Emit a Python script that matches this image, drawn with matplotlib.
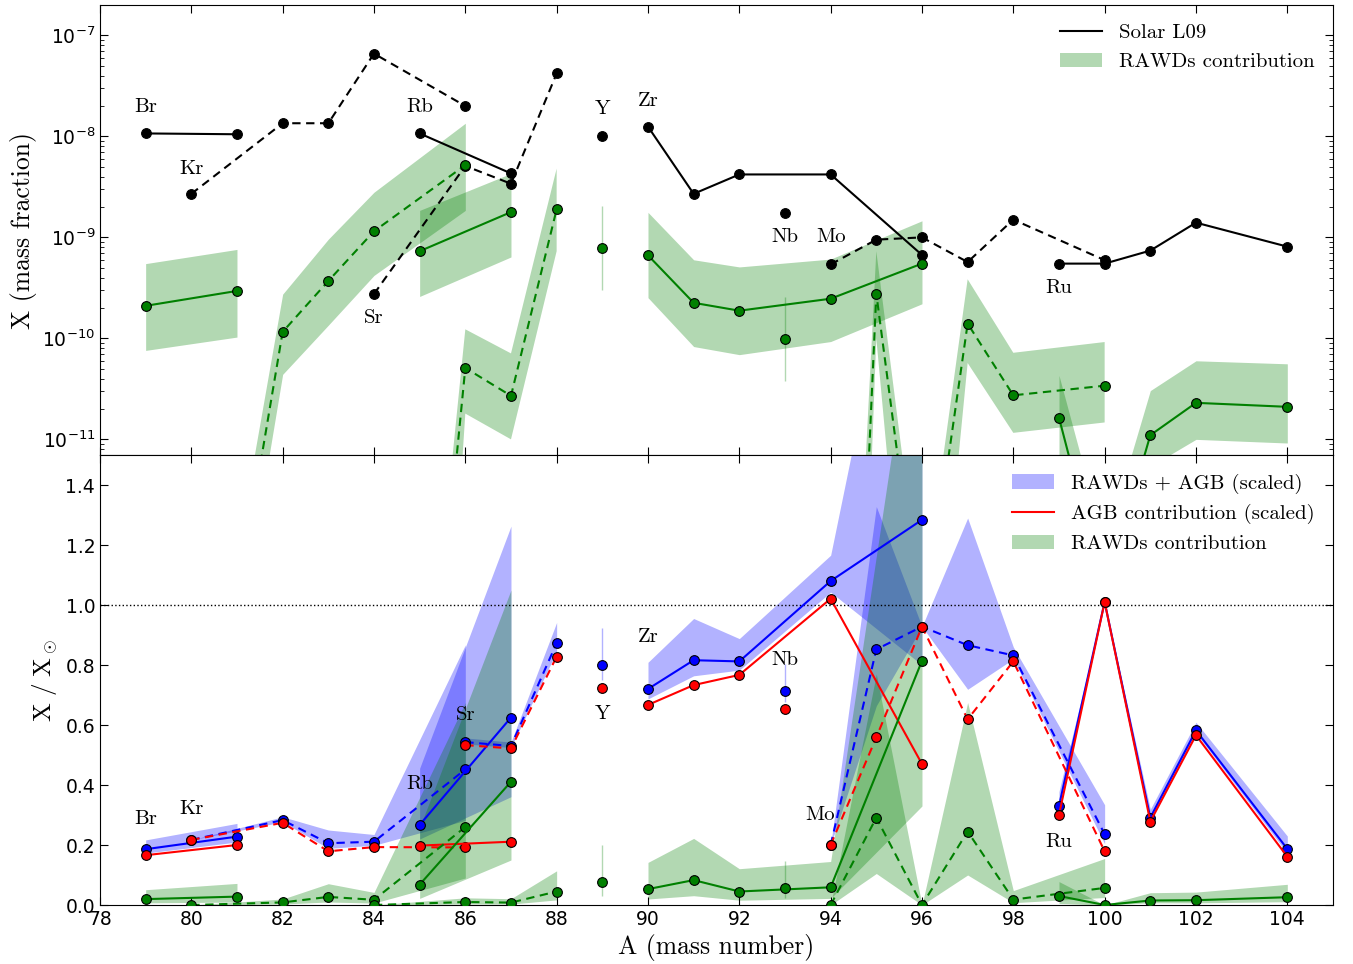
import numpy as np
import matplotlib
matplotlib.use("Agg")
import matplotlib.pyplot as plt
from matplotlib.lines import Line2D
from matplotlib.patches import Patch

plt.rcParams['mathtext.fontset'] = 'cm'
plt.rcParams['lines.scale_dashes'] = False
plt.rcParams['xtick.direction'] = 'in'
plt.rcParams['ytick.direction'] = 'in'
plt.rcParams['xtick.labelsize'] = 13.5
plt.rcParams['ytick.labelsize'] = 13.5

nan = np.nan

# ---- isotopes: element, mass number ----
element = ['Br', 'Br',
           'Kr', 'Kr', 'Kr', 'Kr', 'Kr',
           'Rb', 'Rb',
           'Sr', 'Sr', 'Sr', 'Sr',
           'Y',
           'Zr', 'Zr', 'Zr', 'Zr', 'Zr',
           'Nb',
           'Mo', 'Mo', 'Mo', 'Mo', 'Mo', 'Mo',
           'Ru', 'Ru', 'Ru', 'Ru', 'Ru']
mass = [79, 81,
        80, 82, 83, 84, 86,
        85, 87,
        84, 86, 87, 88,
        89,
        90, 91, 92, 94, 96,
        93,
        94, 95, 96, 97, 98, 100,
        99, 100, 101, 102, 104]

# ---- top panel: mass fractions ----
solar = [1.07e-8, 1.05e-8,
         2.7e-9, 1.35e-8, 1.35e-8, 6.6e-8, 2.0e-8,
         1.07e-8, 4.3e-9,
         2.75e-10, 5.1e-9, 3.4e-9, 4.2e-8,
         1.02e-8,
         1.25e-8, 2.7e-9, 4.2e-9, 4.2e-9, 6.7e-10,
         1.75e-9,
         5.4e-10, 9.5e-10, 1.0e-9, 5.7e-10, 1.5e-9, 5.95e-10,
         5.5e-10, 5.5e-10, 7.4e-10, 1.4e-9, 8.1e-10]
rawd = [2.1e-10, 2.95e-10,
        5e-16, 1.16e-10, 3.7e-10, 1.15e-9, 5.2e-9,
        7.3e-10, 1.78e-9,
        3e-20, 5.1e-11, 2.7e-11, 1.9e-9,
        7.9e-10,
        6.65e-10, 2.25e-10, 1.88e-10, 2.47e-10, 5.5e-10,
        9.8e-11,
        2.5e-20, 2.77e-10, 1e-13, 1.4e-10, 2.73e-11, 3.4e-11,
        1.64e-11, 3e-13, 1.1e-11, 2.3e-11, 2.1e-11]
rawd_lo = [7.6e-11, 1.03e-10,
           1.7e-16, 4.4e-11, 1.35e-10, 4.2e-10, 1.85e-9,
           2.6e-10, 6.4e-10,
           2e-25, 1.8e-11, 1.0e-11, 7.3e-10,
           3.0e-10,
           2.53e-10, 8.3e-11, 6.9e-11, 9.3e-11, 2.2e-10,
           3.8e-11,
           1e-22, 1.0e-10, 1.3e-15, 5.7e-11, 1.16e-11, 1.47e-11,
           3e-12, 1e-14, 5.4e-12, 1.0e-11, 9.2e-12]
rawd_hi = [5.5e-10, 7.6e-10,
           2e-15, 2.74e-10, 9.6e-10, 2.8e-9, 1.35e-8,
           1.85e-9, 4.3e-9,
           1.3e-19, 1.23e-10, 7.1e-11, 4.8e-9,
           2.04e-9,
           1.77e-9, 6.0e-10, 5.1e-10, 6.1e-10, 1.46e-9,
           2.57e-10,
           1e-18, 7.3e-10, 2e-13, 3.85e-10, 7.2e-11, 9.2e-11,
           4.3e-11, 9e-13, 3.04e-11, 6.0e-11, 5.6e-11]

# ---- bottom panel: ratios to solar ----
agb = [0.166, 0.200,
       0.217, 0.274, 0.179, 0.193, 0.192,
       0.198, 0.211,
       nan, 0.533, 0.522, 0.828,
       0.722,
       0.667, 0.733, 0.767, 1.021, 0.470,
       0.655,
       0.200, 0.559, 0.928, 0.619, 0.812, 0.179,
       0.300, 1.010, 0.278, 0.566, 0.161]
total = [0.186, 0.228,
         0.217, 0.283, 0.206, 0.211, 0.452,
         0.267, 0.625,
         nan, 0.543, 0.530, 0.873,
         0.800,
         0.720, 0.816, 0.812, 1.080, 1.284,
         0.712,
         0.200, 0.852, 0.928, 0.866, 0.832, 0.236,
         0.330, 1.010, 0.291, 0.582, 0.187]
total_lo = [0.173, 0.210,
            0.217, 0.277, 0.189, 0.199, 0.282,
            0.220, 0.361,
            nan, 0.537, 0.525, 0.845,
            0.751,
            0.687, 0.764, 0.783, 1.043, 0.800,
            0.677,
            0.200, 0.664, 0.928, 0.719, 0.820, 0.204,
            0.305, 1.010, 0.285, 0.573, 0.172]
total_hi = [0.217, 0.272,
            0.217, 0.294, 0.250, 0.235, 0.867,
            0.456, 1.263,
            nan, 0.557, 0.543, 0.942,
            0.922,
            0.809, 0.955, 0.888, 1.166, 2.650,
            0.802,
            0.200, 1.328, 0.928, 1.290, 0.860, 0.334,
            0.378, 1.010, 0.319, 0.609, 0.230]
ratio = [0.0196, 0.028,
         0.0, 0.0086, 0.027, 0.0174, 0.260,
         0.068, 0.411,
         0.0, 0.010, 0.008, 0.045,
         0.077,
         0.053, 0.083, 0.045, 0.059, 0.814,
         0.056,
         0.0, 0.291, 0.0, 0.245, 0.018, 0.057,
         0.030, 0.0, 0.015, 0.016, 0.026]
ratio_lo = [0.0071, 0.0098,
            0.0, 0.0033, 0.010, 0.0064, 0.090,
            0.022, 0.150,
            0.0, 0.0035, 0.003, 0.017,
            0.029,
            0.020, 0.031, 0.016, 0.022, 0.330,
            0.022,
            0.0, 0.105, 0.0, 0.100, 0.0077, 0.025,
            0.005, 0.0, 0.0073, 0.0071, 0.011]
ratio_hi = [0.051, 0.072,
            0.0, 0.020, 0.071, 0.042, 0.675,
            0.258, 1.050,
            0.0, 0.024, 0.021, 0.114,
            0.200,
            0.142, 0.222, 0.121, 0.145, 2.180,
            0.147,
            0.0, 0.770, 0.0, 0.675, 0.048, 0.155,
            0.078, 0.0, 0.041, 0.043, 0.069]

elements = ['Br', 'Kr', 'Rb', 'Sr', 'Y', 'Zr', 'Nb', 'Mo', 'Ru']
linestyles = ['-', '--', '-', '--', '-', '-', '-', '--', '-']

# label anchors (A, value) for each element in the two panels
top_labels = {'Br': (79, 1.94e-8), 'Kr': (80, 4.8e-9), 'Rb': (85, 1.94e-8),
              'Sr': (84, 1.6e-10), 'Y': (89, 1.85e-8), 'Zr': (90, 2.26e-8),
              'Nb': (93, 1.0e-9), 'Mo': (94, 1.0e-9), 'Ru': (99, 3.16e-10)}
bot_labels = {'Br': (79, 0.287), 'Kr': (80, 0.32), 'Rb': (85, 0.403),
              'Sr': (86, 0.633), 'Y': (89, 0.637), 'Zr': (90, 0.893),
              'Nb': (93, 0.817), 'Mo': (93.76, 0.30), 'Ru': (99, 0.21)}

mass = np.array(mass)
element = np.array(element)
solar, rawd, rawd_lo, rawd_hi = map(np.array, (solar, rawd, rawd_lo, rawd_hi))
agb, total, total_lo, total_hi = map(np.array, (agb, total, total_lo, total_hi))
ratio, ratio_lo, ratio_hi = map(np.array, (ratio, ratio_lo, ratio_hi))

fig = plt.figure(figsize=(13.53, 9.64), dpi=100)
ax1 = fig.add_axes([0.0739, 0.528, 0.9113, 0.4668])
ax2 = fig.add_axes([0.0739, 0.0612, 0.9113, 0.4668], sharex=ax1)

serif = 'cmr10'
ms = 7
dash = (6, 4)


def band(ax, x, lo, hi, color):
    if len(x) == 1:
        ax.vlines(x, lo, hi, color=color, alpha=0.3, lw=1)
    else:
        ax.fill_between(x, lo, hi, color=color, alpha=0.3, lw=0)


def line(ax, x, y, color, ls, z=2):
    kw = dict(color=color, marker='o', ms=ms, mec='k', mew=0.8, lw=1.5, zorder=z)
    if ls == '--':
        kw['dashes'] = dash
    ax.plot(x, y, **kw)


# ---- top panel ----
for el in elements:
    m = element == el
    band(ax1, mass[m], rawd_lo[m], rawd_hi[m], 'g')
for el, ls in zip(elements, linestyles):
    m = element == el
    line(ax1, mass[m], solar[m], 'k', ls, 3)
for el, ls in zip(elements, linestyles):
    m = element == el
    line(ax1, mass[m], rawd[m], 'g', ls, 4)
for el, (xa, ya) in top_labels.items():
    ax1.text(xa, ya, el, ha='center', va='center', fontsize=15, family=serif)

ax1.set_yscale('log')
ax1.set_ylim(7e-12, 2e-7)
ax1.set_xlim(78, 105)
ax1.set_xticks(np.arange(78, 105, 2))
ax1.tick_params(labelbottom=False, top=True, right=True, which='both')
ax1.tick_params(which='major', length=6)
ax1.tick_params(which='minor', length=3)
ax1.set_ylabel('X (mass fraction)', family=serif, fontsize=18.5)
ax1.legend([Line2D([], [], color='k', lw=1.5), Patch(color='g', alpha=0.3, lw=0)],
           ['Solar L09', 'RAWDs contribution'], loc='upper right', frameon=False,
           prop={'family': serif, 'size': 15})

# ---- bottom panel ----
for el in elements:
    m = element == el
    band(ax2, mass[m], total_lo[m], total_hi[m], 'b')
for el in elements:
    m = element == el
    band(ax2, mass[m], ratio_lo[m], ratio_hi[m], 'g')
ax2.axhline(1.0, color='k', ls=':', lw=1)
for el, ls in zip(elements, linestyles):
    m = element == el
    line(ax2, mass[m], total[m], 'b', ls, 3)
for el, ls in zip(elements, linestyles):
    m = element == el
    line(ax2, mass[m], agb[m], 'r', ls, 4)
for el, ls in zip(elements, linestyles):
    m = element == el
    line(ax2, mass[m], ratio[m], 'g', ls, 5)
for el, (xa, ya) in bot_labels.items():
    ax2.text(xa, ya, el, ha='center', va='center', fontsize=15, family=serif)

ax2.set_ylim(0, 1.5)
ax2.set_yticks(np.arange(0, 1.41, 0.2))
ax2.yaxis.set_major_formatter(plt.FormatStrFormatter('%.1f'))
ax2.tick_params(top=True, right=True, length=6)
ax2.set_xlabel('A (mass number)', family=serif, fontsize=18.5)
ax2.set_ylabel(r'$\mathrm{X\ /\ X}_\odot$', fontsize=18)
ax2.legend([Patch(color='b', alpha=0.3, lw=0), Line2D([], [], color='r', lw=1.5),
            Patch(color='g', alpha=0.3, lw=0)],
           ['RAWDs + AGB (scaled)', 'AGB contribution (scaled)', 'RAWDs contribution'],
           loc='upper right', frameon=False, prop={'family': serif, 'size': 15})

fig.savefig('out.png', dpi=100)
